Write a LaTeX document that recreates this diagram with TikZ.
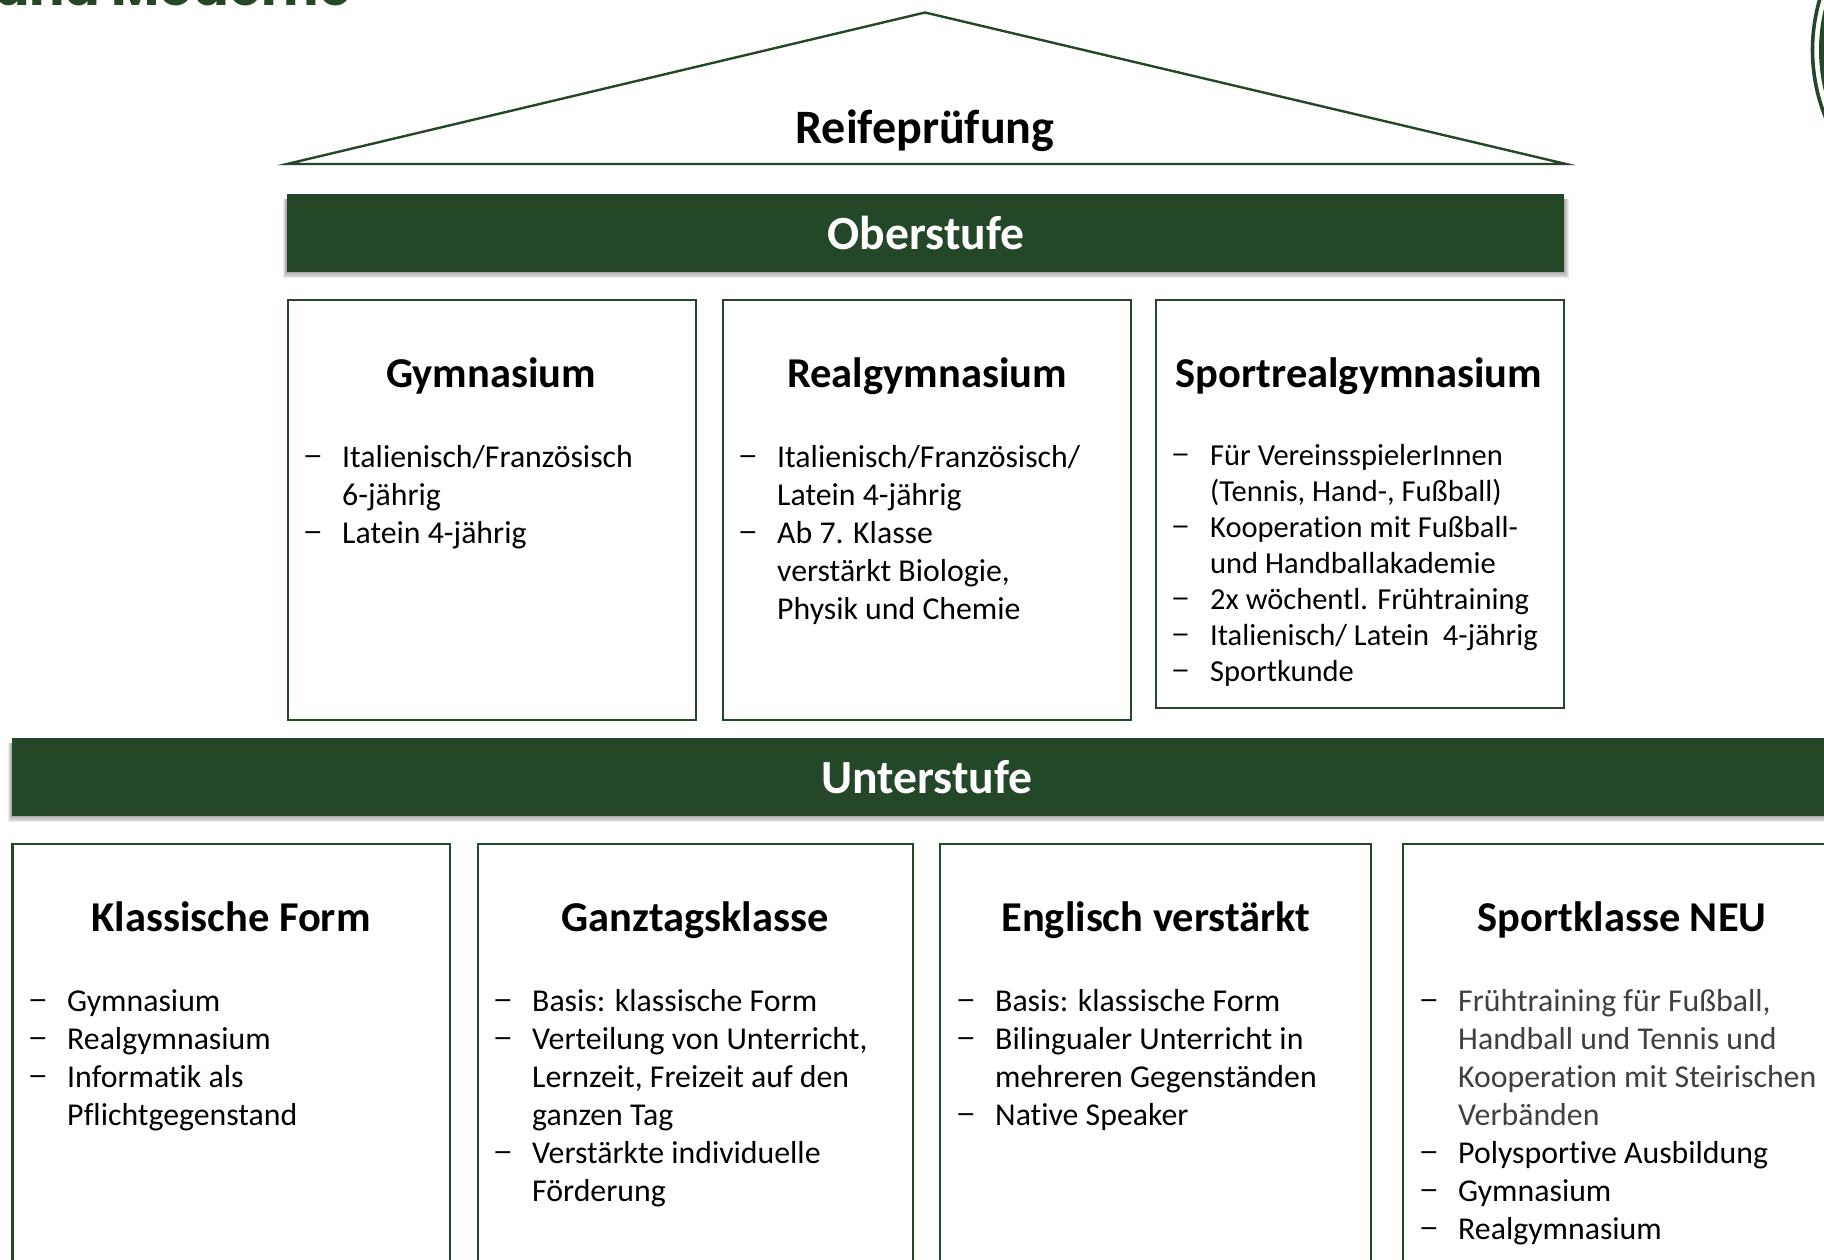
\documentclass[tikz,border=0pt]{standalone}
\usepackage{fontspec}
\usepackage{graphicx}
\setmainfont{Carlito}[Ligatures={NoCommon}]
\newfontfamily\titlefont{Poppins}
\definecolor{schoolgreen}{HTML}{244728}
\definecolor{softgrey}{HTML}{404040}
\newcommand{\bodylist}[3]{\fontsize{#1}{#2}\selectfont\begin{tabular}{@{}p{37pt}@{}l@{}}#3\end{tabular}}
\newcommand{\dsh}{\raisebox{2pt}{\hspace{-2.5pt}\scalebox{1.3}[1]{–}}}
\tikzset{
  x=1pt,y=-1pt,
  boxframe/.style={draw=schoolgreen,line width=2.4pt,fill=white},
  barfill/.style={fill=schoolgreen,draw=none},
  heading/.style={anchor=base,inner sep=0pt,font=\bfseries\fontsize{42.5}{50}\selectfont},
  barlabel/.style={anchor=base,inner sep=0pt,text=white,font=\bfseries\fontsize{47.6}{54}\selectfont},
  listblock/.style={anchor=north west,inner sep=0pt,align=left},
  shadowlayer/.style={fill=black,fill opacity=0.075,draw=none}
}
\newcommand{\barshadow}[4]{%
  \foreach \d in {1,2,3,4,5}{\fill[shadowlayer] (#1-0.8*\d,#2+5) rectangle (#3+\d,#4+\d*1.2);}}
\begin{document}
\begin{tikzpicture}
\useasboundingbox (0,0) rectangle (1824,1259);
\fill[white] (0,0) rectangle (1824,1259);
\begin{scope}
\clip (0,0) rectangle (1824,1259);
% cropped title
\node[anchor=base west,inner sep=0pt,text=schoolgreen,font=\titlefont\bfseries\fontsize{52.5}{60}\selectfont] (title) at (-6,5) {und Moderne};
% logo fragment
\draw[schoolgreen,line width=3.6pt] (1993,50) circle[radius=180.5];
\fill[schoolgreen] (1993,50) circle[radius=174];
% roof
\coordinate (apex) at (925,12.5);
\coordinate (roofL) at (287,164);
\coordinate (roofR) at (1566,164);
\draw[schoolgreen,line width=2.4pt,line join=miter,miter limit=30] (apex) -- (roofL) -- (roofR) -- cycle;
\node[heading,font=\bfseries\fontsize{48}{54}\selectfont] (reife) at (925,143) {Reifeprüfung};
% Oberstufe
\barshadow{287}{194}{1564}{272}
\fill[barfill] (287,194) rectangle (1564,272);
\node[barlabel] (ober) at (926,249) {Oberstufe};
% Upper boxes
\draw[boxframe] (288,300) rectangle (696,720);
\draw[boxframe] (723,300) rectangle (1131,720);
\draw[boxframe] (1156,300) rectangle (1564,708);
\node[heading] (gym) at (491,387) {Gymnasium};
\node[heading] (real) at (927,387) {Realgymnasium};
\node[heading] (sport) at (1359,387) {Sportrealgymnasium};
\node[listblock] (gymlist) at (305,440.7) {\bodylist{31.8}{38}{%
 \dsh & Italienisch/Französisch\\ & 6-jährig\\ \dsh & Latein 4-jährig}};
\node[listblock] (reallist) at (740,440.7) {\bodylist{31.8}{38}{%
 \dsh & Italienisch/Französisch/\\ & Latein 4-jährig\\ \dsh & Ab 7. Klasse\\ & verstärkt Biologie,\\ & Physik und Chemie}};
\node[listblock] (sportlist) at (1173,439.9) {\bodylist{30.5}{36.1}{%
 \dsh & Für VereinsspielerInnen\\ & (Tennis, Hand-, Fußball)\\ \dsh & Kooperation mit Fußball-\\ & und Handballakademie\\ \dsh & 2x wöchentl. Frühtraining\\ \dsh & Italienisch/ Latein\ \ 4-jährig\\ \dsh & Sportkunde}};
% Unterstufe
\barshadow{12}{738}{1830}{816}
\fill[barfill] (12,738) rectangle (1830,816);
\node[barlabel] (unter) at (927,793) {Unterstufe};
% Lower boxes
\draw[boxframe] (12.5,844) rectangle (450,1270);
\draw[boxframe] (478,844) rectangle (913,1270);
\draw[boxframe] (940,844) rectangle (1371,1270);
\draw[boxframe] (1403,844) rectangle (1840,1270);
\node[heading] (klass) at (231,931) {Klassische Form};
\node[heading] (ganz) at (695,931) {Ganztagsklasse};
\node[heading] (engl) at (1156,931) {Englisch verstärkt};
\node[heading] (neu) at (1622,931) {Sportklasse NEU};
\node[listblock] (klasslist) at (30,984.6) {\bodylist{31.8}{38}{%
 \dsh & Gymnasium\\ \dsh & Realgymnasium\\ \dsh & Informatik als\\ & Pflichtgegenstand}};
\node[listblock] (ganzlist) at (495,984.6) {\bodylist{31.8}{38}{%
 \dsh & Basis: klassische Form\\ \dsh & Verteilung von Unterricht,\\ & Lernzeit, Freizeit auf den\\ & ganzen Tag\\ \dsh & Verstärkte individuelle\\ & Förderung}};
\node[listblock] (engllist) at (958,984.6) {\bodylist{31.8}{38}{%
 \dsh & Basis: klassische Form\\ \dsh & Bilingualer Unterricht in\\ & mehreren Gegenständen\\ \dsh & Native Speaker}};
\node[listblock] (neulist) at (1421,984.6) {\bodylist{31.8}{38}{%
 \dsh & \textcolor{softgrey}{Frühtraining für Fußball,}\\ & \textcolor{softgrey}{Handball und Tennis und}\\ & \textcolor{softgrey}{Kooperation mit Steirischen}\\ & \textcolor{softgrey}{Verbänden}\\ \dsh & Polysportive Ausbildung\\ \dsh & Gymnasium\\ \dsh & Realgymnasium}};
\end{scope}
\end{tikzpicture}
\end{document}
